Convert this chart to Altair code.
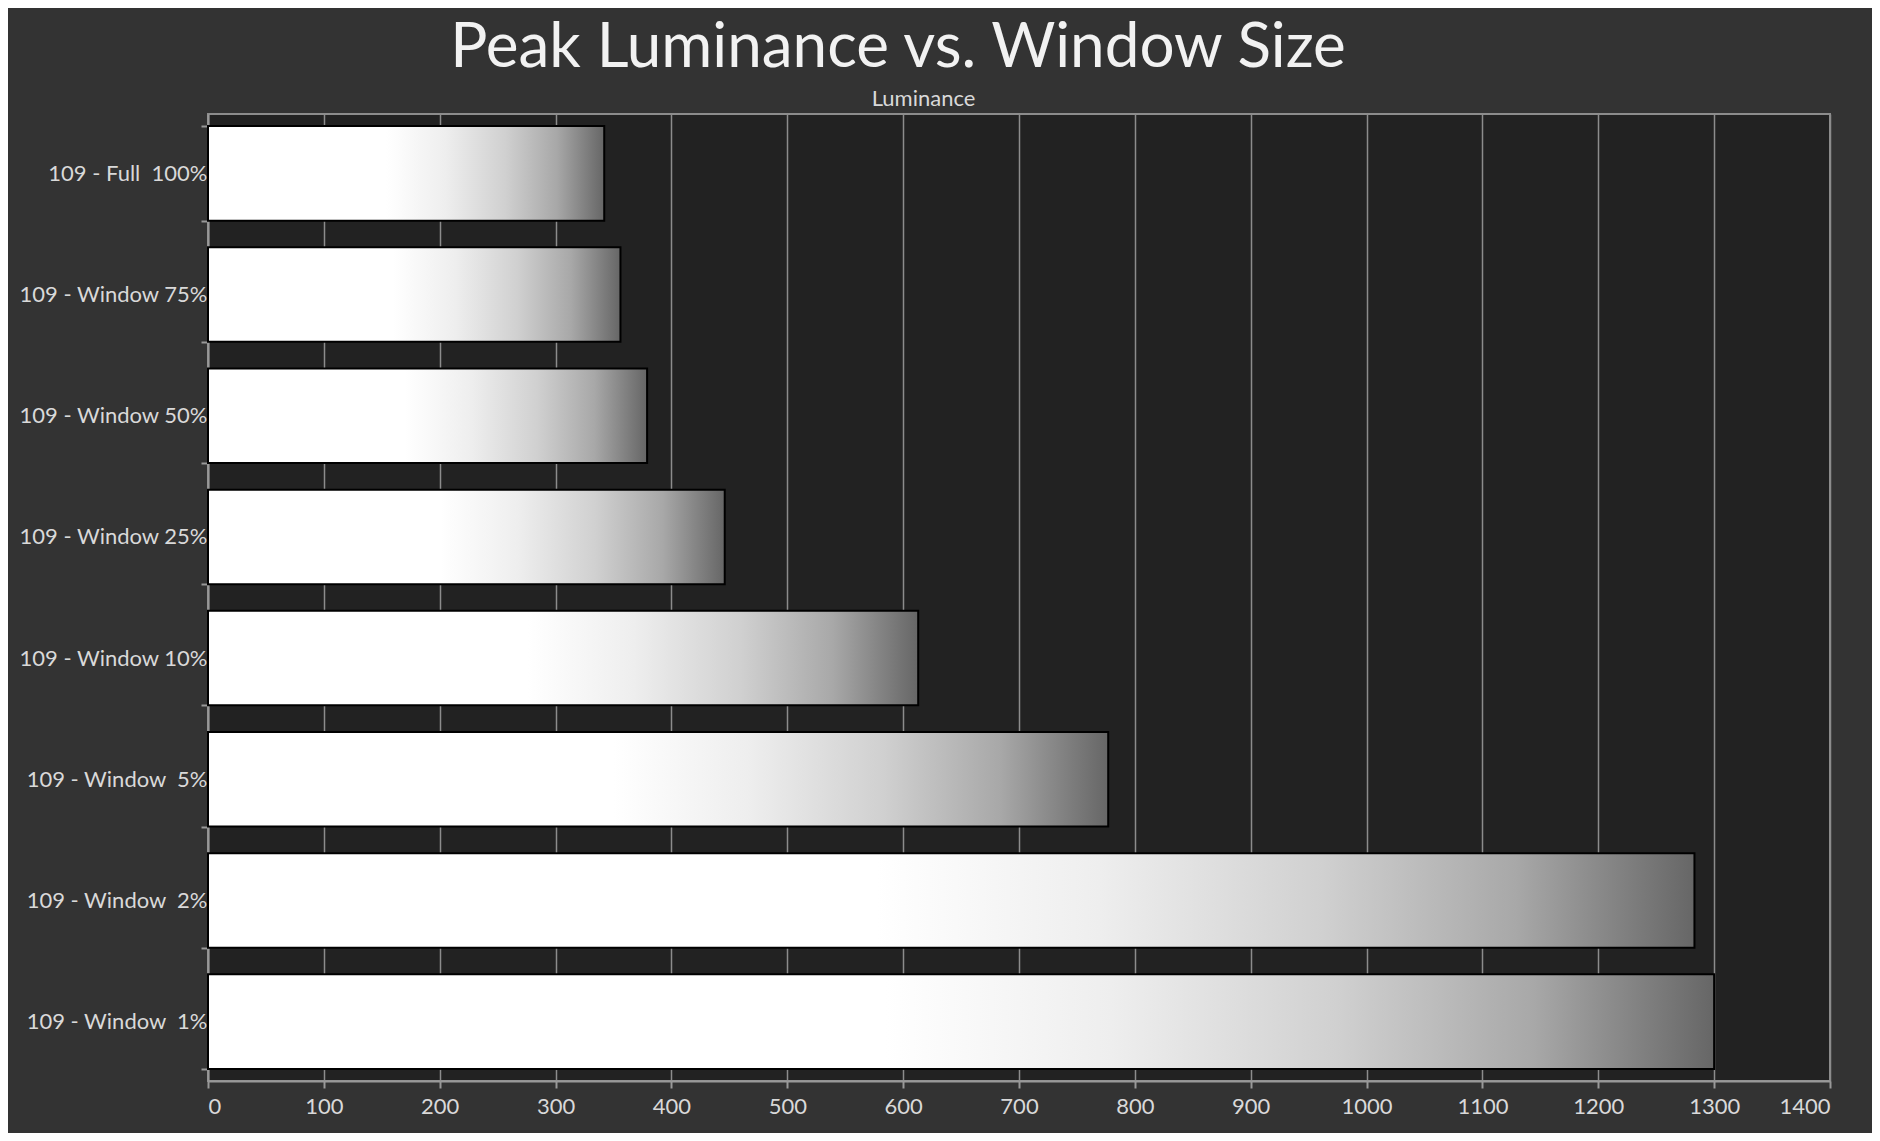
import altair as alt
import pandas as pd

categories = [
    "109 - Full  100%",
    "109 - Window 75%",
    "109 - Window 50%",
    "109 - Window 25%",
    "109 - Window 10%",
    "109 - Window  5%",
    "109 - Window  2%",
    "109 - Window  1%",
]
luminance = [342, 356, 379, 446, 613, 777, 1283, 1300]
x_ticks = list(range(0, 1401, 100))

df = pd.DataFrame({"cat": categories, "lum": luminance})

grad = alt.LinearGradient(
    gradient="linear",
    stops=[
        alt.GradientStop(color="#ffffff", offset=0),
        alt.GradientStop(color="#ffffff", offset=0.45),
        alt.GradientStop(color="#eeeeee", offset=0.6),
        alt.GradientStop(color="#d0d0d0", offset=0.75),
        alt.GradientStop(color="#a8a8a8", offset=0.88),
        alt.GradientStop(color="#666666", offset=1),
    ],
    x1=0, x2=1, y1=0, y2=0,
)

FONT = "Lato"

chart = alt.Chart(df).mark_bar(
    color=grad, stroke="#000000", strokeWidth=2
).encode(
    x=alt.X(
        "lum:Q",
        scale=alt.Scale(domain=[0, 1400], nice=False),
        axis=alt.Axis(
            values=x_ticks,
            format="d",
            title="Luminance",
            titleX=715,
            titleY=-993,
            titleFontSize=22,
            titleFontWeight="normal",
            titleColor="#d9d9d9",
            titleFont=FONT,
            labelFont=FONT,
            labelFontSize=22,
            labelColor="#d9d9d9",
            labelPadding=8,
            grid=True,
            gridColor="#8c8c8c",
            gridWidth=1.5,
            domainColor="#999999",
            domainWidth=2,
            tickColor="#999999",
            tickSize=7,
            tickWidth=2,
        ),
    ),
    y=alt.Y(
        "cat:N",
        sort=categories,
        scale=alt.Scale(paddingInner=0.22, paddingOuter=0.1),
        axis=alt.Axis(
            title=None,
            labelFont=FONT,
            labelFontSize=22,
            labelColor="#d9d9d9",
            labelPadding=-6,
            labelLimit=400,
            labelExpr="replace(datum.label, '  ', '\u00a0 ')",
            tickBand="extent",
            tickColor="#999999",
            tickSize=7,
            tickWidth=2,
            domainColor="#999999",
            domainWidth=2,
            grid=False,
        ),
    ),
).properties(
    width=1622,
    height=967,
    title=alt.TitleParams(
        "Peak Luminance vs. Window Size",
        font=FONT,
        fontSize=62,
        fontWeight="normal",
        color="#f2f2f2",
        anchor="middle",
        frame="group",
        dx=-121,
        dy=-1,
        offset=6,
    ),
    background="#333333",
    autosize=alt.AutoSizeParams(type="none"),
    padding={"left": 200, "top": 106, "right": 42, "bottom": 52},
).configure_view(
    fill="#222222", stroke="#8c8c8c", strokeWidth=2
)

chart.save("out.html", embed_options={"renderer": "svg", "actions": False})
